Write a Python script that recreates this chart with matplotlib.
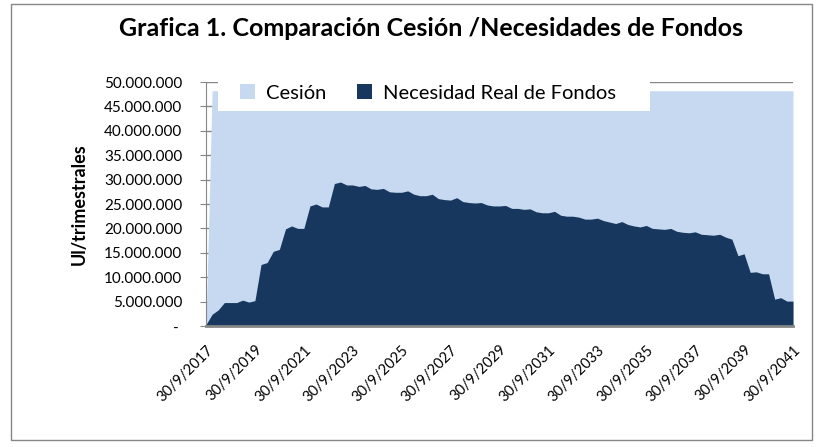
import matplotlib
matplotlib.use("Agg")
import matplotlib.pyplot as plt
import matplotlib.transforms as mtrans
from matplotlib.patches import Rectangle
import numpy as np
import pandas as pd

plt.rcParams['font.family'] = ['Lato', 'DejaVu Sans']

# quarterly categories 30/9/2017 ... 30/9/2041
fechas = pd.date_range('2017-09-30', periods=97, freq='QE')
etiquetas = [f"{d.day}/{d.month}/{d.year}" for d in fechas]

# Cesion (UI per quarter)
cesion = [0] + [48200000] * 96

# Necesidad Real de Fondos (millions UI)
necesidad_m = [
    0.3, 2.4, 3.3, 4.8, 4.8, 4.8, 5.3, 4.9, 5.2, 12.6,
    13.0, 15.3, 15.7, 19.9, 20.5, 20.0, 20.0, 24.6, 25.0, 24.4,
    24.4, 29.2, 29.5, 28.9, 28.9, 28.6, 28.8, 28.1, 28.0, 28.2,
    27.5, 27.4, 27.4, 27.7, 27.0, 26.7, 26.7, 27.0, 26.1, 25.9,
    25.8, 26.3, 25.5, 25.3, 25.2, 25.3, 24.8, 24.6, 24.6, 24.7,
    24.1, 24.1, 23.9, 24.0, 23.4, 23.2, 23.2, 23.5, 22.7, 22.5,
    22.5, 22.3, 21.9, 21.9, 22.1, 21.6, 21.3, 21.0, 21.4, 20.8,
    20.5, 20.3, 20.6, 20.0, 19.9, 19.8, 20.0, 19.4, 19.2, 19.1,
    19.3, 18.8, 18.7, 18.6, 18.8, 18.2, 17.8, 14.4, 14.8, 11.0,
    11.1, 10.7, 10.7, 5.5, 5.8, 5.1, 5.1,
]
necesidad = [v * 1e6 for v in necesidad_m]

yticks = list(range(0, 50000001, 5000000))

light = '#C6D9F1'
dark = '#17375E'
gris = '#868686'

fig = plt.figure(figsize=(8.2, 4.47), dpi=100)
ax = fig.add_axes([206 / 820, 1 - 326 / 447, 587 / 820, 244 / 447])

x = np.arange(len(cesion))
ax.fill_between(x, 0, cesion, color=light, lw=0, label='Cesión', zorder=2)
ax.fill_between(x, 0, necesidad, color=dark, lw=0, label='Necesidad Real de Fondos', zorder=3)

ax.set_xlim(0, len(cesion) - 1)
ax.set_ylim(0, 50000000)

ax.set_yticks(yticks)
ax.set_yticklabels(['- ' if v == 0 else f"{v:,.0f}".replace(',', '.') for v in yticks])
ax.yaxis.grid(True, color=gris, lw=1, zorder=1)
ax.set_axisbelow(True)

pos = x[::8]
ax.set_xticks(pos)
ax.set_xticklabels([etiquetas[i] for i in pos], rotation=45, ha='right', va='top',
                   rotation_mode='anchor')
shift = mtrans.ScaledTranslation(-8 / 100, 0, fig.dpi_scale_trans)
for lab in ax.get_xticklabels():
    lab.set_transform(lab.get_transform() + shift)

ax.tick_params(axis='y', length=4, color=gris, labelsize=11, pad=13)
ax.tick_params(axis='x', length=0, labelsize=10.5, pad=12)

for s in ['top', 'right']:
    ax.spines[s].set_visible(False)
ax.spines['left'].set_color(gris)
ax.spines['bottom'].set_color(gris)
ax.spines['bottom'].set_linewidth(2)
ax.spines['left'].set_zorder(4)
ax.spines['bottom'].set_zorder(4)

ax.set_ylabel('Ul/trimestrales', fontsize=13, fontweight='bold', labelpad=12)

# white legend box overlapping the plot
ax.add_patch(Rectangle(((218 - 206) / 587, (326 - 111) / 244), (650 - 218) / 587, 33 / 244,
                       transform=ax.transAxes, facecolor='white', edgecolor='none',
                       zorder=5, clip_on=False))
leg = ax.legend(loc='center left', bbox_to_anchor=((240 - 206) / 587, (326 - 93) / 244),
                ncol=2, frameon=False, fontsize=14.5, handlelength=0.75, handleheight=0.75,
                handletextpad=0.55, columnspacing=1.5, borderaxespad=0, borderpad=0)
leg.set_zorder(6)

fig.text(431 / 820, 1 - 28 / 447, 'Grafica 1. Comparación Cesión /Necesidades de Fondos',
         ha='center', va='center', fontsize=18, fontweight='bold')

fig.patches.append(Rectangle((11 / 820, 1 - 440 / 447), 801 / 820, 436 / 447,
                             transform=fig.transFigure, fill=False, edgecolor=gris, lw=1))

fig.savefig('out.png', dpi=100)
